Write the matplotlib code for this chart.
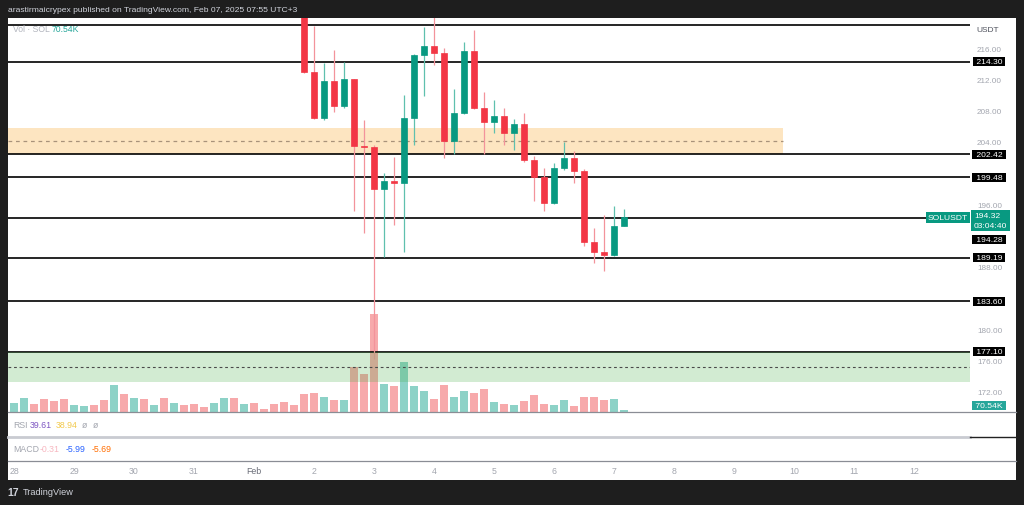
import numpy as np
import pandas as pd
import matplotlib
matplotlib.use("Agg")
import matplotlib.pyplot as plt
import matplotlib.dates as mdates
import matplotlib.transforms as mtransforms
from matplotlib.patches import Rectangle
from matplotlib.lines import Line2D

plt.rcParams['font.family'] = ['Liberation Sans', 'DejaVu Sans']

# ---- data: SOLUSDT 4h candles (visible part) ----
candle_start = "2025-02-01 20:00"
opens = [222.0, 213.0, 207.07, 211.77, 208.65, 212.03, 203.52, 203.40, 197.93, 199.04,
         198.74, 207.03, 215.18, 216.26, 215.44, 204.16, 207.67, 215.62, 208.31, 206.60,
         207.33, 205.11, 206.30, 201.73, 199.47, 196.14, 200.66, 201.94, 200.24, 191.22,
         189.86, 189.52, 193.27]
highs = [222.5, 218.9, 214.12, 215.82, 214.2, 212.1, 206.81, 203.6, 199.98, 202.11,
         210.02, 215.3, 218.69, 220.6, 216.04, 210.79, 216.77, 218.34, 210.44, 209.38,
         208.31, 206.94, 207.67, 202.16, 200.63, 201.27, 203.96, 202.88, 200.54, 192.94,
         194.64, 195.83, 195.41]
lows = [212.84, 206.94, 206.85, 207.8, 208.31, 195.12, 192.34, 176.2, 189.22, 193.4,
        189.94, 203.61, 209.93, 213.9, 201.91, 202.46, 207.6, 208.2, 202.46, 205.11,
        203.61, 203.0, 201.47, 196.47, 195.19, 196.05, 200.41, 198.74, 190.71, 188.45,
        187.43, 189.35, 193.2]
closes = [213.0, 207.07, 211.77, 208.65, 212.03, 203.52, 203.40, 197.93, 199.04, 198.74,
          207.03, 215.18, 216.26, 215.44, 204.16, 207.67, 215.62, 208.31, 206.60, 207.33,
          205.11, 206.30, 201.73, 199.47, 196.14, 200.66, 201.94, 200.24, 191.22, 189.86,
          189.52, 193.27, 194.32]

# volume (K SOL), 4h bars from Jan 27 20:00
vol_start = "2025-01-27 20:00"
volume = [494, 342, 494, 282, 459, 399, 484, 247, 222, 247,
          424, 953, 646, 519, 469, 272, 519, 342, 258, 307,
          177, 318, 494, 519, 282, 328, 131, 307, 353, 272,
          660, 681, 530, 448, 448, 1599, 1341, 3459, 988, 942,
          1790, 918, 766, 469, 964, 530, 741, 681, 812, 353,
          293, 272, 399, 625, 307, 247, 448, 222, 530, 540,
          424, 469, 70.54]
early_dirs = "UUUDDDDUUDDUDUDUDUDDDUUDUDDDDD"   # bars before the first visible candle

levels = [214.30, 202.42, 199.48, 194.28, 189.19, 183.60, 177.10]
top_line = 219.0
price_ticks = [172, 176, 180, 188, 196, 204, 208, 212, 216]   # others sit under the level boxes
supply_zone = (202.42, 205.79)
supply_mid = 204.10
supply_end = "2025-02-09 19:36"
demand_zone = (173.25, 177.10)
demand_mid = 175.18
last_close = 194.32
countdown = "03:04:40"
vol_last = "70.54K"

# ---- helpers for pixel layout ----
W, H = 1024, 506
def fx(px):
    return px / W
def fy(py):
    return 1 - py / H

RED, GREEN = '#f23645', '#089981'
RED_W, GREEN_W = '#f3939b', '#5fc0ae'
VOL_RED, VOL_GREEN = '#f7a9ab', '#8dd2c7'
GRAY = '#a3a6af'

fig = plt.figure(figsize=(W / 100, H / 100), dpi=100)
fig.patch.set_facecolor('#1e1e1e')
fig.patches.append(Rectangle((fx(8), fy(481)), (1016 - 8) / W, (481 - 19) / H,
                             transform=fig.transFigure, facecolor='white',
                             edgecolor='none', zorder=-1))

pane = [fx(8), fy(413.3), (970 - 8) / W, (413.3 - 19) / H]
axv = fig.add_axes(pane)
ax = fig.add_axes(pane)
axv.set_zorder(1)
ax.set_zorder(2)
for a in (ax, axv):
    a.set_facecolor('none')
    for s in a.spines.values():
        s.set_visible(False)
    a.set_xticks([])

t0 = mdates.date2num(pd.Timestamp("2025-01-28"))
xlim = (t0 - 0.1, t0 + 15.933)

# volume
vol_times = mdates.date2num(pd.date_range(vol_start, periods=len(volume), freq='4h'))
cand_times = mdates.date2num(pd.date_range(candle_start, periods=len(opens), freq='4h'))
dirs = list(early_dirs) + ['U' if c >= o else 'D' for o, c in zip(opens, closes)]
axv.bar(vol_times, volume, width=0.148, color=[VOL_GREEN if d == 'U' else VOL_RED for d in dirs],
        linewidth=0)
axv.set_xlim(*xlim)
axv.set_ylim(0, 13907)
axv.set_yticks([])

# main pane
ax.set_xlim(*xlim)
ax.set_ylim(169.36, 219.88)

ax.fill_between([xlim[0], mdates.date2num(pd.Timestamp(supply_end))], *supply_zone,
                color='#fde5c1', linewidth=0, zorder=1)
ax.plot([xlim[0], mdates.date2num(pd.Timestamp(supply_end))], [supply_mid] * 2,
        color='#a8927a', lw=0.9, dashes=(3, 3), zorder=1.5)
ax.axhspan(*demand_zone, color=(0.30, 0.69, 0.31, 0.25), linewidth=0, zorder=6)
ax.axhline(demand_mid, color='#4a4a4a', lw=0.8, dashes=(2.5, 2.5), zorder=6)

for lvl in levels + [top_line]:
    ax.axhline(lvl, color='black', lw=1.2, zorder=2)

for t, o, h, l, c in zip(cand_times, opens, highs, lows, closes):
    up = c >= o
    ax.vlines(t, l, h, color=GREEN_W if up else RED_W, lw=0.9, zorder=3)
    ax.bar(t, abs(c - o), bottom=min(o, c), width=0.115,
           color=GREEN if up else RED, edgecolor=GREEN if up else RED, linewidth=0.5, zorder=4)

# price scale
ax.yaxis.tick_right()
ax.set_yticks(price_ticks)
ax.yaxis.set_major_formatter(matplotlib.ticker.StrMethodFormatter('{x:.2f}'))
ax.tick_params(axis='y', length=0, pad=5, labelsize=5.9, labelcolor=GRAY)

trans = mtransforms.blended_transform_factory(fig.transFigure, ax.transData)
label_offsets = {194.28: -15.3}
for lvl in levels:
    ax.annotate(f" {lvl:.2f} ", xy=(fx(989), lvl), xycoords=trans,
                xytext=(0, label_offsets.get(lvl, 0)), textcoords='offset points',
                ha='center', va='center', fontsize=6.1, color='white',
                bbox=dict(boxstyle='square,pad=0.12', fc='black', ec='none'),
                annotation_clip=False, zorder=10)

ax.annotate(f"{last_close:.2f}\n{countdown}", xy=(fx(974), last_close), xycoords=trans,
            xytext=(0, 3.6), textcoords='offset points', ha='left', va='top',
            fontsize=6.1, color='white', linespacing=1.45,
            bbox=dict(boxstyle='square,pad=0.3', fc=GREEN, ec='none'),
            annotation_clip=False, zorder=11)
ax.annotate("SOLUSDT", xy=(fx(968), last_close), xycoords=trans,
            ha='right', va='center', fontsize=6.1, color='white',
            bbox=dict(boxstyle='square,pad=0.2', fc=GREEN, ec='none'),
            annotation_clip=False, zorder=11)

vtrans = mtransforms.blended_transform_factory(fig.transFigure, axv.transData)
axv.annotate(f" {vol_last} ", xy=(fx(989), volume[-1]), xycoords=vtrans,
             xytext=(0, 3.6), textcoords='offset points', ha='center', va='center',
             fontsize=6.1, color='white',
             bbox=dict(boxstyle='square,pad=0.12', fc='#26a69a', ec='none'),
             annotation_clip=False)

fig.text(fx(988), fy(31), "USDT", color='#50535e', fontsize=6, ha='center', va='center')

# legends
fig.text(fx(13), fy(30), "Vol · SOL", color='#b2b5be', fontsize=6.2, va='center')
fig.text(fx(52), fy(30), vol_last, color='#26a69a', fontsize=6.2, va='center')

rsi_items = [("RSI", '#a3a6af', 13), ("39.61", '#7e57c2', 30), ("38.94", '#f2c94c', 56),
             ("ø", '#a3a6af', 82), ("ø", '#a3a6af', 93)]
for txt, col, px in rsi_items:
    fig.text(fx(px), fy(425), txt, color=col, fontsize=6.3, va='center')
macd_items = [("MACD", '#a3a6af', 13), ("-0.31", '#f7b7c0', 40), ("-5.99", '#2962ff', 66),
              ("-5.69", '#ff6d00', 92)]
for txt, col, px in macd_items:
    fig.text(fx(px), fy(449.3), txt, color=col, fontsize=6.3, va='center')

# pane separators
for y, x0, x1, col, lw in [(413.3, 8, 1016, '#8a8d95', 0.9), (437.7, 8, 970, '#c9cbd1', 2.0),
                           (437.7, 970, 1016, '#222222', 1.0), (461.7, 8, 1016, '#8a8d95', 0.9)]:
    fig.add_artist(Line2D([fx(x0), fx(x1)], [fy(y), fy(y)], transform=fig.transFigure,
                          color=col, lw=lw))

# time axis
ax_time = fig.add_axes([fx(8), fy(481), (970 - 8) / W, (481 - 461.7) / H])
ax_time.set_xlim(*xlim)
ax_time.axis('off')
ttrans = mtransforms.blended_transform_factory(ax_time.transData, ax_time.transAxes)
for d in pd.date_range("2025-01-28", "2025-02-13", freq='D'):
    lab = "Feb" if (d.month == 2 and d.day == 1) else str(d.day)
    ax_time.text(mdates.date2num(d), 0.5, lab, transform=ttrans, ha='center', va='center',
                 fontsize=6.3, color='#6a6d78' if lab == "Feb" else GRAY, clip_on=True)

# header / footer
fig.text(fx(8), fy(10), "arastirmaicrypex published on TradingView.com, Feb 07, 2025 07:55 UTC+3",
         color='#d1d4dc', fontsize=6.1, va='center')
fig.text(fx(7), fy(493), "17", color='#d1d4dc', fontsize=7.5, fontweight='bold', va='center')
fig.text(fx(23), fy(493), "TradingView", color='#d1d4dc', fontsize=6.6, va='center')

fig.savefig("out.png", dpi=100, facecolor=fig.get_facecolor())
